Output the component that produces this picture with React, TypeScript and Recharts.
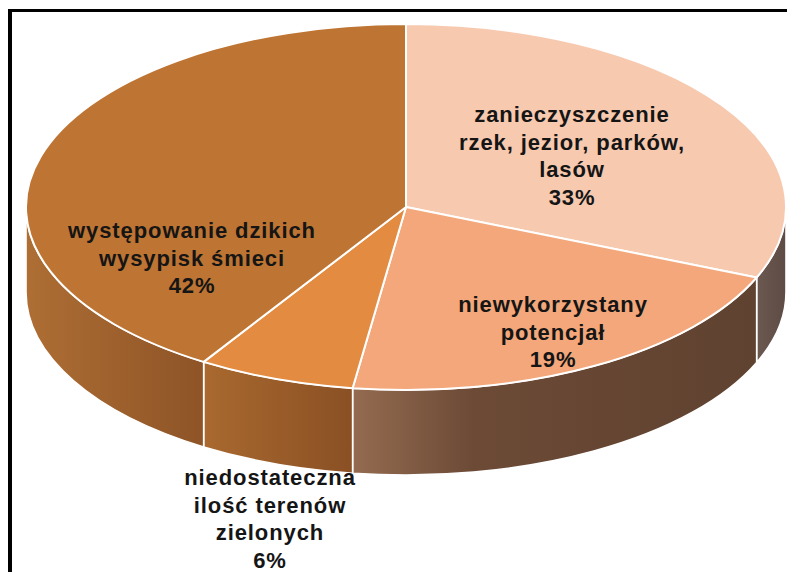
import React from 'react';
import { PieChart, Pie } from 'recharts';

// ---- data ----
const categories = [
  'zanieczyszczenie rzek, jezior, parków, lasów',
  'niewykorzystany potencjał',
  'niedostateczna ilość terenów zielonych',
  'występowanie dzikich wysypisk śmieci',
];
const labelLines = [
  ['zanieczyszczenie', 'rzek, jezior, parków,', 'lasów'],
  ['niewykorzystany', 'potencjał'],
  ['niedostateczna', 'ilość terenów', 'zielonych'],
  ['występowanie dzikich', 'wysypisk śmieci'],
];
const values = [33, 19, 6, 42];

const data = categories.map((name, i) => ({ name, value: values[i] }));

// ---- styles ----
const TOP_COLORS = ['#F7C9AF', '#F3A77A', '#E38B40', '#BE7433'];
const SIDE_STOPS: [number, string][][] = [
  [[0, '#6B5850'], [1, '#5E4B45']],
  [[0, '#946B50'], [0.3, '#6C4A36'], [1, '#5F4230']],
  [[0, '#A9692F'], [1, '#8A5024']],
  [[0, '#AE6E34'], [1, '#8E5427']],
];
const TILT = 183 / 380;
const DEPTH = 85;
const SKEW = 7; // 3-D view distortion of the angles (degrees)
const LABEL_POS: [number, number][] = [
  [572, 122],
  [553, 312],
  [270, 485],
  [192, 238],
];
const LINE_H = 27.7;
const RAD = Math.PI / 180;

// map a Recharts angle (deg, CCW from east) to the displayed angle on the tilted disc
const view = (a: number) => {
  const t = 90 - a; // clockwise from top
  const f = t - SKEW * Math.sin(t * RAD);
  return 90 - f;
};

const makePt = (cx: number, cy: number, R: number) => (a: number, dz = 0) =>
  [cx + R * Math.cos(a * RAD), cy - R * TILT * Math.sin(a * RAD) + dz] as [number, number];

const renderSlice = (props: any) => {
  const { cx, cy, outerRadius, startAngle, endAngle, index } = props;
  const R = outerRadius;
  const Ry = R * TILT;
  const pt = makePt(cx, cy, R);
  const s = view(Math.max(startAngle, endAngle));
  const e = view(Math.min(startAngle, endAngle));
  const large = s - e > 180 ? 1 : 0;
  const p1 = pt(s);
  const p2 = pt(e);
  const topPath = `M${cx},${cy} L${p1[0]},${p1[1]} A${R},${Ry} 0 ${large} 1 ${p2[0]},${p2[1]} Z`;

  const hi = Math.min(s, 0);
  const lo = Math.max(e, -180);
  let side = null;
  if (hi > lo) {
    const a = pt(hi);
    const b = pt(lo);
    const c = pt(lo, DEPTH);
    const d = pt(hi, DEPTH);
    const sidePath = `M${a[0]},${a[1]} A${R},${Ry} 0 0 1 ${b[0]},${b[1]} L${c[0]},${c[1]} A${R},${Ry} 0 0 0 ${d[0]},${d[1]} Z`;
    const gid = `side-grad-${index}`;
    side = (
      <g>
        <defs>
          <linearGradient id={gid} x1="0" y1="0" x2="1" y2="0">
            {SIDE_STOPS[index].map(([o, col], k) => (
              <stop key={k} offset={o} stopColor={col} />
            ))}
          </linearGradient>
        </defs>
        <path d={sidePath} fill={`url(#${gid})`} stroke="#FFFFFF" strokeWidth={1.6} strokeLinejoin="round" />
      </g>
    );
  }
  return (
    <g key={`slice-${index}`}>
      {side}
      <path d={topPath} fill={TOP_COLORS[index]} stroke="#FFFFFF" strokeWidth={2} strokeLinejoin="round" />
    </g>
  );
};

const renderText = (props: any) => {
  const { index, percent } = props;
  const [x, y0] = LABEL_POS[index];
  const lines = [...labelLines[index], `${Math.round(percent * 100)}%`];
  return (
    <g key={`txt-${index}`}>
      {lines.map((ln, k) => (
        <text
          key={k}
          x={x}
          y={y0 + k * LINE_H}
          textAnchor="middle"
          fontFamily="'Liberation Sans', Arial, sans-serif"
          fontWeight="bold"
          fontSize={22}
          letterSpacing={0.9}
          fill="#151515"
        >
          {ln}
        </text>
      ))}
    </g>
  );
};

export default function App() {
  return (
    <div style={{ position: 'absolute', left: 0, top: 0, width: 787, height: 572, background: '#fff', overflow: 'hidden' }}>
      <PieChart width={787} height={572} margin={{ top: 0, right: 0, bottom: 0, left: 0 }}>
        <Pie
          data={data}
          dataKey="value"
          nameKey="name"
          cx={406}
          cy={207}
          outerRadius={380}
          startAngle={90}
          endAngle={-270}
          fill="none"
          stroke="none"
          label={renderSlice}
          labelLine={false}
          isAnimationActive={false}
        />
        <Pie
          data={data}
          dataKey="value"
          nameKey="name"
          cx={406}
          cy={207}
          outerRadius={380}
          startAngle={90}
          endAngle={-270}
          fill="none"
          stroke="none"
          label={renderText}
          labelLine={false}
          isAnimationActive={false}
        />
      </PieChart>
      <div
        style={{
          position: 'absolute',
          left: 8,
          top: 9,
          width: 790,
          height: 580,
          borderLeft: '4px solid #000',
          borderTop: '3px solid #000',
          pointerEvents: 'none',
        }}
      />
    </div>
  );
}
